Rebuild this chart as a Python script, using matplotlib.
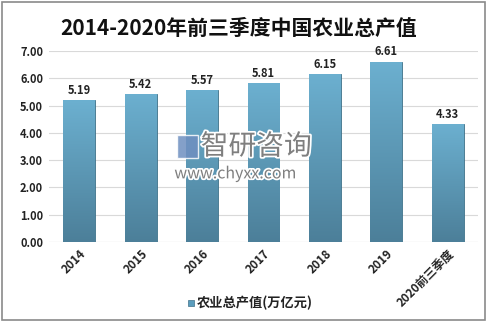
import numpy as np
import matplotlib
matplotlib.use("Agg")
import matplotlib.pyplot as plt
import matplotlib.patheffects as pe
from matplotlib.colors import LinearSegmentedColormap
from matplotlib.patches import Rectangle

plt.rcParams['font.family'] = ['Noto Sans CJK SC', 'DejaVu Sans']

years = ["2014", "2015", "2016", "2017", "2018", "2019", "2020前三季度"]
values = [5.19, 5.42, 5.57, 5.81, 6.15, 6.61, 4.33]
series_name = "农业总产值(万亿元)"
title = "2014-2020年前三季度中国农业总产值"

fig = plt.figure(figsize=(4.87, 3.22), dpi=100)
ax = fig.add_axes([0.10, 0.248, 0.882, 0.594])

x = np.arange(len(years))
bars = ax.bar(x, values, width=0.52, color="#5a9dbd", edgecolor="#3f7189",
              linewidth=0.6, zorder=2)

# vertical gradient inside each bar
cmap = LinearSegmentedColormap.from_list("g", ["#4c7f99", "#6cb0d0"])
grad = np.linspace(0, 1, 256).reshape(-1, 1)
for b in bars:
    x0, y0 = b.get_x(), b.get_y()
    w, h = b.get_width(), b.get_height()
    im = ax.imshow(grad, cmap=cmap, origin="lower", aspect="auto",
                   extent=[x0, x0 + w, y0, y0 + h], zorder=2)
    im.set_clip_path(b)

for xi, v in zip(x, values):
    ax.text(xi, v + 0.12, f"{v:.2f}", ha="center", va="bottom",
            fontsize=8, fontweight="bold", color="#222222")

ax.set_xlim(-0.5, len(years) - 0.5)
ax.set_ylim(0, 7)
ax.set_yticks(np.arange(0, 7.01, 1))
ax.set_yticklabels([f"{t:.2f}" for t in np.arange(0, 7.01, 1)],
                   fontsize=8, fontweight="bold", color="#222222")
ax.set_xticks(x)
ax.set_xticklabels(years, rotation=45, ha="right", rotation_mode="anchor",
                   fontsize=8.5, fontweight="bold", color="#222222")
ax.tick_params(length=0, pad=4)
ax.yaxis.grid(True, color="#d9d9d9", linewidth=0.8, zorder=0)
ax.set_axisbelow(True)
for s in ax.spines.values():
    s.set_visible(False)
ax.axhline(0, color="#d9d9d9", linewidth=0.8, zorder=1)

fig.text(0.49, 0.912, title, ha="center", va="center", fontsize=15,
         fontweight="bold", color="#111111")

# legend
fig.patches.append(Rectangle((0.387, 0.049), 0.012, 0.02, transform=fig.transFigure,
                             facecolor="#5a9dbd", edgecolor="#3f7189", linewidth=0.5))
fig.text(0.405, 0.059, series_name, ha="left", va="center", fontsize=9.5,
         fontweight="bold", color="#222222")

# watermark
halo = [pe.withStroke(linewidth=2.5, foreground="white")]
fig.text(0.412, 0.545, "智研咨询", ha="left", va="center", fontsize=20,
         color="#7f7f7f", path_effects=halo, zorder=10)
fig.text(0.358, 0.46, "www.chyxx.com", ha="left", va="center", fontsize=11.5,
         color="#7f7f7f", path_effects=halo, zorder=10)
fig.patches.append(Rectangle((0.364, 0.51), 0.042, 0.07, transform=fig.transFigure,
                             facecolor="#6f8fc0", edgecolor="white", linewidth=1,
                             alpha=0.85, zorder=10))

# outer border
fig.patches.append(Rectangle((0.004, 0.006), 0.992, 0.988, transform=fig.transFigure,
                             facecolor="none", edgecolor="#8a8a8a", linewidth=1.2))

fig.savefig("out.png", dpi=100)
